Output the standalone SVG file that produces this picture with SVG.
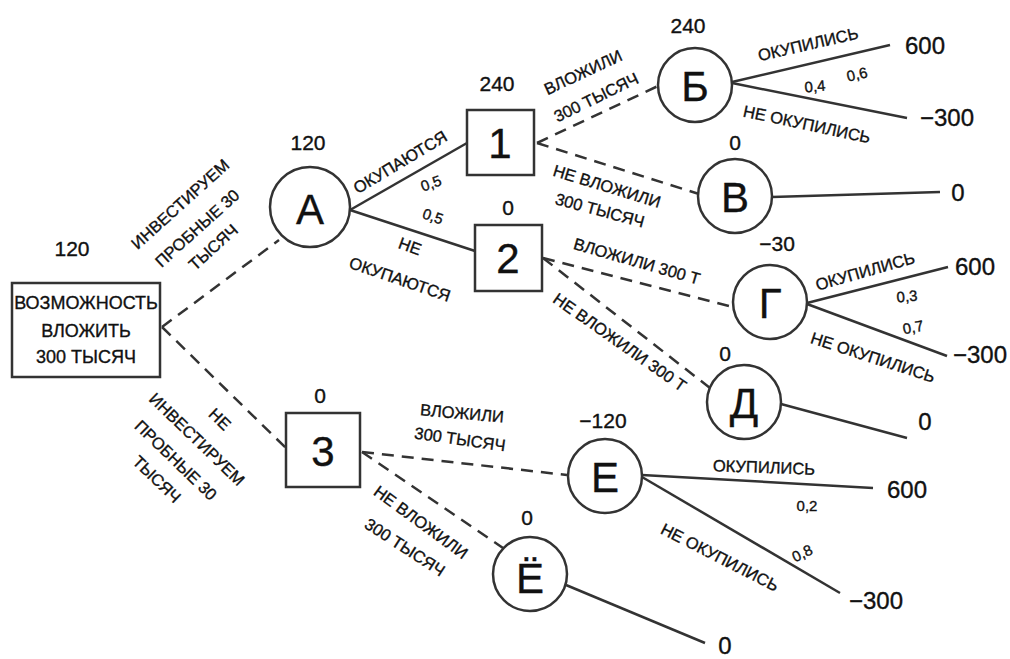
<svg xmlns="http://www.w3.org/2000/svg" width="1010" height="659" viewBox="0 0 1010 659">
<style>
text{font-family:"Liberation Sans","DejaVu Sans",sans-serif;fill:#111;stroke:#111;stroke-width:0.35;text-anchor:middle;dominant-baseline:central}
.lbl{font-size:16.5px}
.p{font-size:15px}
.num{font-size:21px}
.val{font-size:24px}
.big{font-size:42px}
.root{font-size:18px}
.shape{fill:#fff;stroke:#333;stroke-width:2.5}
.solid{stroke:#333;stroke-width:2.5;fill:none}
.dash{stroke:#333;stroke-width:2.5;fill:none;stroke-dasharray:12 8}
</style>
<rect width="1010" height="659" fill="#fff"/>
<g id="connectors">
<line class="dash" x1="162" y1="327" x2="279" y2="240"/>
<line class="dash" x1="162" y1="327" x2="286" y2="448"/>
<line class="dash" x1="537" y1="143" x2="658" y2="86"/>
<line class="dash" x1="537" y1="143" x2="699" y2="194"/>
<line class="dash" x1="543" y1="258" x2="733" y2="307"/>
<line class="dash" x1="543" y1="258" x2="710" y2="388"/>
<line class="dash" x1="362" y1="452" x2="567" y2="475"/>
<line class="dash" x1="362" y1="452" x2="503" y2="548"/>
<line class="solid" x1="350" y1="210" x2="467" y2="143"/>
<line class="solid" x1="350" y1="210" x2="475" y2="251"/>
<line class="solid" x1="732" y1="82" x2="890" y2="45"/>
<line class="solid" x1="732" y1="83" x2="907" y2="118"/>
<line class="solid" x1="772" y1="197" x2="940" y2="192"/>
<line class="solid" x1="807" y1="303" x2="948" y2="267"/>
<line class="solid" x1="807" y1="304" x2="947" y2="356"/>
<line class="solid" x1="781" y1="404" x2="907" y2="438"/>
<line class="solid" x1="642" y1="475" x2="873" y2="488"/>
<line class="solid" x1="642" y1="477" x2="840" y2="593"/>
<line class="solid" x1="566" y1="585" x2="705" y2="643"/>
</g>
<g id="edge-labels">
<g transform="translate(180,204) rotate(-42)"><text class="lbl">ИНВЕСТИРУЕМ</text></g>
<g transform="translate(197,228) rotate(-42)"><text class="lbl">ПРОБНЫЕ 30</text></g>
<g transform="translate(213,247) rotate(-42)"><text class="lbl">ТЫСЯЧ</text></g>
<g transform="translate(220,419) rotate(44)"><text class="lbl">НЕ</text></g>
<g transform="translate(197,439) rotate(44)"><text class="lbl">ИНВЕСТИРУЕМ</text></g>
<g transform="translate(176,460) rotate(44)"><text class="lbl">ПРОБНЫЕ 30</text></g>
<g transform="translate(157,479) rotate(44)"><text class="lbl">ТЫСЯЧ</text></g>
<g transform="translate(400,162) rotate(-31)"><text class="lbl">ОКУПАЮТСЯ</text></g>
<g transform="translate(431,183) rotate(-20)"><text class="p">0,5</text></g>
<g transform="translate(433,216) rotate(18)"><text class="p">0,5</text></g>
<g transform="translate(410,246) rotate(20)"><text class="lbl">НЕ</text></g>
<g transform="translate(400,279) rotate(19)"><text class="lbl">ОКУПАЮТСЯ</text></g>
<g transform="translate(583,72) rotate(-25)"><text class="lbl">ВЛОЖИЛИ</text></g>
<g transform="translate(596,97) rotate(-26)"><text class="lbl">300 ТЫСЯЧ</text></g>
<g transform="translate(607,186) rotate(17)"><text class="lbl">НЕ ВЛОЖИЛИ</text></g>
<g transform="translate(600,210) rotate(15)"><text class="lbl">300 ТЫСЯЧ</text></g>
<g transform="translate(637,261) rotate(16)"><text class="lbl">ВЛОЖИЛИ 300 Т</text></g>
<g transform="translate(620,342) rotate(35)"><text class="lbl">НЕ ВЛОЖИЛИ 300 Т</text></g>
<g transform="translate(462,413) rotate(5)"><text class="lbl">ВЛОЖИЛИ</text></g>
<g transform="translate(460,439) rotate(8)"><text class="lbl">300 ТЫСЯЧ</text></g>
<g transform="translate(421,522) rotate(36)"><text class="lbl">НЕ ВЛОЖИЛИ</text></g>
<g transform="translate(405,547) rotate(33)"><text class="lbl">300 ТЫСЯЧ</text></g>
<g transform="translate(808,44) rotate(-13)"><text class="lbl">ОКУПИЛИСЬ</text></g>
<g transform="translate(857,74) rotate(-13)"><text class="p">0,6</text></g>
<g transform="translate(815,86) rotate(-5)"><text class="p">0,4</text></g>
<g transform="translate(807,124) rotate(12)"><text class="lbl">НЕ ОКУПИЛИСЬ</text></g>
<g transform="translate(865,271) rotate(-16)"><text class="lbl">ОКУПИЛИСЬ</text></g>
<g transform="translate(907,296) rotate(-5)"><text class="p">0,3</text></g>
<g transform="translate(913,327) rotate(-10)"><text class="p">0,7</text></g>
<g transform="translate(873,357) rotate(18)"><text class="lbl">НЕ ОКУПИЛИСЬ</text></g>
<g transform="translate(764,467) rotate(2)"><text class="lbl">ОКУПИЛИСЬ</text></g>
<text class="p" x="807" y="505">0,2</text>
<g transform="translate(802,553) rotate(-25)"><text class="p">0,8</text></g>
<g transform="translate(720,557) rotate(27)"><text class="lbl">НЕ ОКУПИЛИСЬ</text></g>
</g>
<g id="outcomes">
<text class="val" x="925" y="45">600</text>
<text class="val" x="947" y="117">−300</text>
<text class="val" x="958" y="192">0</text>
<text class="val" x="975" y="266">600</text>
<text class="val" x="980" y="354">−300</text>
<text class="val" x="925" y="421">0</text>
<text class="val" x="907" y="489">600</text>
<text class="val" x="876" y="600">−300</text>
<text class="val" x="725" y="645">0</text>
</g>
<g id="node-root">
<rect class="shape" x="12" y="283" width="148" height="94"/>
<text class="root" x="86" y="303">ВОЗМОЖНОСТЬ</text>
<text class="root" x="86" y="331">ВЛОЖИТЬ</text>
<text class="root" x="86" y="357">300 ТЫСЯЧ</text>
<text class="num" x="72" y="248">120</text>
</g>
<g id="node-A">
<circle class="shape" cx="310" cy="207" r="40"/>
<text class="big" x="310" y="209">А</text>
<text class="num" x="308" y="142">120</text>
</g>
<g id="node-1">
<rect class="shape" x="467" y="110" width="67" height="65"/>
<text class="big" x="500" y="143">1</text>
<text class="num" x="497" y="83">240</text>
</g>
<g id="node-2">
<rect class="shape" x="475" y="225" width="67" height="66"/>
<text class="big" x="508" y="258">2</text>
<text class="num" x="508" y="207">0</text>
</g>
<g id="node-3">
<rect class="shape" x="286" y="413" width="74" height="74"/>
<text class="big" x="323" y="451">3</text>
<text class="num" x="320" y="395">0</text>
</g>
<g id="node-B">
<circle class="shape" cx="695" cy="85" r="37"/>
<text class="big" x="695" y="86">Б</text>
<text class="num" x="688" y="25">240</text>
</g>
<g id="node-V">
<circle class="shape" cx="735" cy="196" r="37"/>
<text class="big" x="735" y="197">В</text>
<text class="num" x="735" y="142">0</text>
</g>
<g id="node-G">
<circle class="shape" cx="770" cy="302" r="37"/>
<text class="big" x="770" y="303">Г</text>
<text class="num" x="777" y="243">−30</text>
</g>
<g id="node-D">
<circle class="shape" cx="744" cy="402" r="37"/>
<text class="big" x="744" y="403">Д</text>
<text class="num" x="725" y="353">0</text>
</g>
<g id="node-E">
<circle class="shape" cx="605" cy="476" r="37"/>
<text class="big" x="605" y="477">Е</text>
<text class="num" x="603" y="420">−120</text>
</g>
<g id="node-Yo">
<circle class="shape" cx="530" cy="574" r="37"/>
<text class="big" x="530" y="578">Ё</text>
<text class="num" x="527" y="517">0</text>
</g>
</svg>
